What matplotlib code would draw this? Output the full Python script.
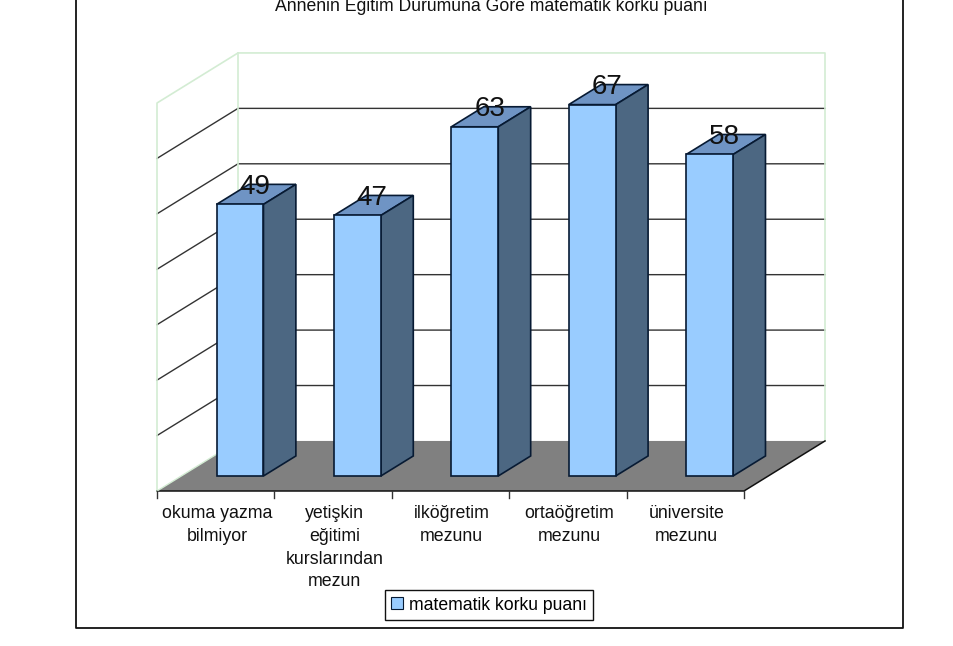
import matplotlib
matplotlib.use("Agg")
import matplotlib.pyplot as plt
from matplotlib.patches import Polygon, Patch
from matplotlib.lines import Line2D

plt.rcParams['font.family'] = ['Liberation Sans', 'DejaVu Sans']

categories = ["okuma yazma\nbilmiyor", "yetişkin\neğitimi\nkurslarından\nmezun",
              "ilköğretim\nmezunu", "ortaöğretim\nmezunu", "üniversite\nmezunu"]
values = [49, 47, 63, 67, 58]
grid_values = [0, 10, 20, 30, 40, 50, 60, 70]
title = "Annenin Eğitim Durumuna Göre matematik korku puanı"
series_name = "matematik korku puanı"

# oblique 3d look: one unit of depth moves this much in data units
depth_x = 0.69
depth_y = 9.03
bar_width = 0.4
bar_d0, bar_d1 = 0.3, 0.7

front_col = "#99ccff"
top_col = "#6f94c4"
side_col = "#4c6782"
edge_col = "#071a33"
wall_col = "#d3ecd3"
grid_col = "#333333"


def p(x, v, d):
    return (x + d * depth_x, v + d * depth_y)


fig = plt.figure(figsize=(9.54, 6.46), dpi=100)
ax = fig.add_axes([157 / 954, (646 - 491) / 646, 587 / 954, 388 / 646])
ax.set_xlim(0, 5)
ax.set_ylim(0, 70)
ax.axis("off")

n = len(categories)
vmax = grid_values[-1]

# outer chart frame, its top is cut off by the image edge
fig.add_artist(Line2D([76 / 954, 76 / 954, 903 / 954, 903 / 954],
                      [1.0, 18 / 646, 18 / 646, 1.0], color="#111111", lw=1.3))

# walls
for g in grid_values[1:-1]:
    xs, ys = zip(p(0, g, 0), p(0, g, 1), p(n, g, 1))
    ax.plot(xs, ys, color=grid_col, lw=1.0, clip_on=False, zorder=1)
xs, ys = zip(p(0, 0, 0), p(0, vmax, 0), p(0, vmax, 1), p(n, vmax, 1), p(n, 0, 1))
ax.plot(xs, ys, color=wall_col, lw=1.2, clip_on=False, zorder=1)
xs, ys = zip(p(0, 0, 1), p(0, vmax, 1))
ax.plot(xs, ys, color=wall_col, lw=1.2, clip_on=False, zorder=1)

# floor
ax.add_patch(Polygon([p(0, 0, 0), p(n, 0, 0), p(n, 0, 1), p(0, 0, 1)],
                     facecolor="#808080", edgecolor="none", clip_on=False, zorder=2))
xs, ys = zip(p(0, 0, 0), p(n, 0, 0), p(n, 0, 1))
ax.plot(xs, ys, color="#111111", lw=1.1, clip_on=False, zorder=3)
xs, ys = zip(p(0, 0, 0), p(0, 0, 1))
ax.plot(xs, ys, color=wall_col, lw=1.0, clip_on=False, zorder=3)

# bars
for i, v in enumerate(values):
    x0 = i + 0.5 - bar_width / 2
    x1 = i + 0.5 + bar_width / 2
    faces = [
        ([p(x0, v, bar_d0), p(x1, v, bar_d0), p(x1, v, bar_d1), p(x0, v, bar_d1)], top_col),
        ([p(x1, 0, bar_d0), p(x1, 0, bar_d1), p(x1, v, bar_d1), p(x1, v, bar_d0)], side_col),
        ([p(x0, 0, bar_d0), p(x1, 0, bar_d0), p(x1, v, bar_d0), p(x0, v, bar_d0)], front_col),
    ]
    for pts, col in faces:
        ax.add_patch(Polygon(pts, facecolor=col, edgecolor=edge_col, lw=1.2,
                             joinstyle="miter", clip_on=False, zorder=4 + i))

# value labels sit on the top face
for i, v in enumerate(values):
    ax.annotate(str(v), p(i + 0.5, v, 0.5), xytext=(-1, 5.5), textcoords="offset points",
                ha="center", va="center", fontsize=20, color="#111111", zorder=20,
                annotation_clip=False)

# ticks and category labels
for i in range(n + 1):
    ax.plot([i, i], [0, -1.3], color="#333333", lw=1.0, clip_on=False, zorder=3)
for i, c in enumerate(categories):
    ax.text(i + 0.5 + 0.01, -2.5, c, ha="center", va="top", fontsize=12.8, color="#111111",
            linespacing=1.45, clip_on=False)

fig.text(491 / 954, 1 - 11 / 646, title, ha="center", va="baseline", fontsize=12.7, color="#111111")

handle = Patch(facecolor=front_col, edgecolor=edge_col, lw=0.8)
fig.legend([handle], [series_name], loc="center", bbox_to_anchor=(489 / 954, 1 - 605 / 646),
           fontsize=12.7, frameon=True, fancybox=False, edgecolor="#111111", framealpha=1,
           handlelength=0.65, handleheight=0.65, handletextpad=0.35, borderpad=0.38, borderaxespad=0)

fig.savefig("out.png", dpi=100)
